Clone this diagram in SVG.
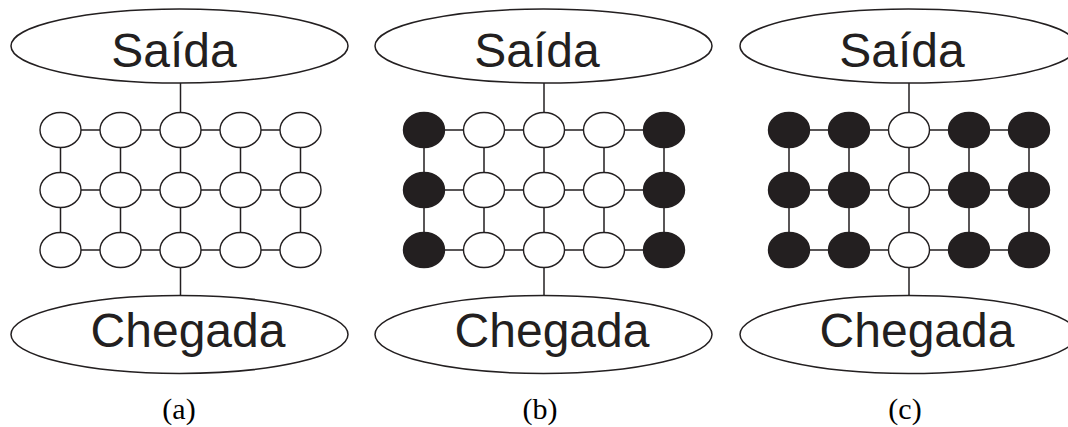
<svg xmlns="http://www.w3.org/2000/svg" width="1068" height="427" viewBox="0 0 1068 427">
  <style>
    .bg { fill: #ffffff; }
    .term { fill: #ffffff; stroke: #231f20; stroke-width: 1.5; }
    .term-text { font-family: "Liberation Sans", Arial, sans-serif; font-size: 48px; fill: #231f20; }
    .edge { stroke: #231f20; stroke-width: 1.5; fill: none; }
    .cell { fill: #ffffff; stroke: #231f20; stroke-width: 1.4; }
    .cell.on { fill: #231f20; }
    .caption { font-family: "Liberation Serif", "Times New Roman", serif; font-size: 30px; fill: #000000; text-anchor: middle; }
  </style>
  <rect class="bg" x="0" y="0" width="1068" height="427"/>

  <!-- ===== Panel (a): centre x = 180.5 ===== -->
  <g id="panel-a">
    <g id="a-connectors">
      <line class="edge" x1="180.5" y1="83" x2="180.5" y2="112.5"/>
      <line class="edge" x1="180.5" y1="267.5" x2="180.5" y2="295"/>
      <!-- rows -->
      <path class="edge" d="M81 130H100M141 130H160M201 130H220M261 130H280"/>
      <path class="edge" d="M81 190H100M141 190H160M201 190H220M261 190H280"/>
      <path class="edge" d="M81 250H100M141 250H160M201 250H220M261 250H280"/>
      <!-- columns -->
      <path class="edge" d="M60.5 147.5V172.5M60.5 207.5V232.5"/>
      <path class="edge" d="M120.5 147.5V172.5M120.5 207.5V232.5"/>
      <path class="edge" d="M180.5 147.5V172.5M180.5 207.5V232.5"/>
      <path class="edge" d="M240.5 147.5V172.5M240.5 207.5V232.5"/>
      <path class="edge" d="M300.5 147.5V172.5M300.5 207.5V232.5"/>
    </g>
    <g id="a-saida"><ellipse class="term" cx="179.5" cy="46" rx="168.5" ry="37"/><text class="term-text" x="174" y="67" text-anchor="middle">Saída</text></g>
    <g id="a-chegada"><ellipse class="term" cx="179.5" cy="334.5" rx="168.5" ry="39"/><text class="term-text" x="188" y="347" text-anchor="middle">Chegada</text></g>
    <g id="a-r1c1"><ellipse class="cell" cx="60.5" cy="130" rx="20.5" ry="17.5"/></g>
    <g id="a-r1c2"><ellipse class="cell" cx="120.5" cy="130" rx="20.5" ry="17.5"/></g>
    <g id="a-r1c3"><ellipse class="cell" cx="180.5" cy="130" rx="20.5" ry="17.5"/></g>
    <g id="a-r1c4"><ellipse class="cell" cx="240.5" cy="130" rx="20.5" ry="17.5"/></g>
    <g id="a-r1c5"><ellipse class="cell" cx="300.5" cy="130" rx="20.5" ry="17.5"/></g>
    <g id="a-r2c1"><ellipse class="cell" cx="60.5" cy="190" rx="20.5" ry="17.5"/></g>
    <g id="a-r2c2"><ellipse class="cell" cx="120.5" cy="190" rx="20.5" ry="17.5"/></g>
    <g id="a-r2c3"><ellipse class="cell" cx="180.5" cy="190" rx="20.5" ry="17.5"/></g>
    <g id="a-r2c4"><ellipse class="cell" cx="240.5" cy="190" rx="20.5" ry="17.5"/></g>
    <g id="a-r2c5"><ellipse class="cell" cx="300.5" cy="190" rx="20.5" ry="17.5"/></g>
    <g id="a-r3c1"><ellipse class="cell" cx="60.5" cy="250" rx="20.5" ry="17.5"/></g>
    <g id="a-r3c2"><ellipse class="cell" cx="120.5" cy="250" rx="20.5" ry="17.5"/></g>
    <g id="a-r3c3"><ellipse class="cell" cx="180.5" cy="250" rx="20.5" ry="17.5"/></g>
    <g id="a-r3c4"><ellipse class="cell" cx="240.5" cy="250" rx="20.5" ry="17.5"/></g>
    <g id="a-r3c5"><ellipse class="cell" cx="300.5" cy="250" rx="20.5" ry="17.5"/></g>
    <text class="caption" x="179" y="419">(a)</text>
  </g>

  <!-- ===== Panel (b): centre x = 544 ===== -->
  <g id="panel-b">
    <g id="b-connectors">
      <line class="edge" x1="544" y1="83" x2="544" y2="112.5"/>
      <line class="edge" x1="544" y1="267.5" x2="544" y2="295"/>
      <path class="edge" d="M444.5 130H463.5M504.5 130H523.5M564.5 130H583.5M624.5 130H643.5"/>
      <path class="edge" d="M444.5 190H463.5M504.5 190H523.5M564.5 190H583.5M624.5 190H643.5"/>
      <path class="edge" d="M444.5 250H463.5M504.5 250H523.5M564.5 250H583.5M624.5 250H643.5"/>
      <path class="edge" d="M424 147.5V172.5M424 207.5V232.5"/>
      <path class="edge" d="M484 147.5V172.5M484 207.5V232.5"/>
      <path class="edge" d="M544 147.5V172.5M544 207.5V232.5"/>
      <path class="edge" d="M604 147.5V172.5M604 207.5V232.5"/>
      <path class="edge" d="M664 147.5V172.5M664 207.5V232.5"/>
    </g>
    <g id="b-saida"><ellipse class="term" cx="543.5" cy="46" rx="168.5" ry="37"/><text class="term-text" x="537" y="67" text-anchor="middle">Saída</text></g>
    <g id="b-chegada"><ellipse class="term" cx="543.5" cy="334.5" rx="168.5" ry="39"/><text class="term-text" x="552" y="347" text-anchor="middle">Chegada</text></g>
    <g id="b-r1c1"><ellipse class="cell on" cx="424" cy="130" rx="20.5" ry="17.5"/></g>
    <g id="b-r1c2"><ellipse class="cell" cx="484" cy="130" rx="20.5" ry="17.5"/></g>
    <g id="b-r1c3"><ellipse class="cell" cx="544" cy="130" rx="20.5" ry="17.5"/></g>
    <g id="b-r1c4"><ellipse class="cell" cx="604" cy="130" rx="20.5" ry="17.5"/></g>
    <g id="b-r1c5"><ellipse class="cell on" cx="664" cy="130" rx="20.5" ry="17.5"/></g>
    <g id="b-r2c1"><ellipse class="cell on" cx="424" cy="190" rx="20.5" ry="17.5"/></g>
    <g id="b-r2c2"><ellipse class="cell" cx="484" cy="190" rx="20.5" ry="17.5"/></g>
    <g id="b-r2c3"><ellipse class="cell" cx="544" cy="190" rx="20.5" ry="17.5"/></g>
    <g id="b-r2c4"><ellipse class="cell" cx="604" cy="190" rx="20.5" ry="17.5"/></g>
    <g id="b-r2c5"><ellipse class="cell on" cx="664" cy="190" rx="20.5" ry="17.5"/></g>
    <g id="b-r3c1"><ellipse class="cell on" cx="424" cy="250" rx="20.5" ry="17.5"/></g>
    <g id="b-r3c2"><ellipse class="cell" cx="484" cy="250" rx="20.5" ry="17.5"/></g>
    <g id="b-r3c3"><ellipse class="cell" cx="544" cy="250" rx="20.5" ry="17.5"/></g>
    <g id="b-r3c4"><ellipse class="cell" cx="604" cy="250" rx="20.5" ry="17.5"/></g>
    <g id="b-r3c5"><ellipse class="cell on" cx="664" cy="250" rx="20.5" ry="17.5"/></g>
    <text class="caption" x="540" y="419">(b)</text>
  </g>

  <!-- ===== Panel (c): centre x = 909 ===== -->
  <g id="panel-c">
    <g id="c-connectors">
      <line class="edge" x1="909" y1="83" x2="909" y2="112.5"/>
      <line class="edge" x1="909" y1="267.5" x2="909" y2="295"/>
      <path class="edge" d="M809.5 130H828.5M869.5 130H888.5M929.5 130H948.5M989.5 130H1008.5"/>
      <path class="edge" d="M809.5 190H828.5M869.5 190H888.5M929.5 190H948.5M989.5 190H1008.5"/>
      <path class="edge" d="M809.5 250H828.5M869.5 250H888.5M929.5 250H948.5M989.5 250H1008.5"/>
      <path class="edge" d="M789 147.5V172.5M789 207.5V232.5"/>
      <path class="edge" d="M849 147.5V172.5M849 207.5V232.5"/>
      <path class="edge" d="M909 147.5V172.5M909 207.5V232.5"/>
      <path class="edge" d="M969 147.5V172.5M969 207.5V232.5"/>
      <path class="edge" d="M1029 147.5V172.5M1029 207.5V232.5"/>
    </g>
    <g id="c-saida"><ellipse class="term" cx="908.5" cy="46" rx="168.5" ry="37"/><text class="term-text" x="902" y="67" text-anchor="middle">Saída</text></g>
    <g id="c-chegada"><ellipse class="term" cx="908.5" cy="334.5" rx="168.5" ry="39"/><text class="term-text" x="917" y="347" text-anchor="middle">Chegada</text></g>
    <g id="c-r1c1"><ellipse class="cell on" cx="789" cy="130" rx="20.5" ry="17.5"/></g>
    <g id="c-r1c2"><ellipse class="cell on" cx="849" cy="130" rx="20.5" ry="17.5"/></g>
    <g id="c-r1c3"><ellipse class="cell" cx="909" cy="130" rx="20.5" ry="17.5"/></g>
    <g id="c-r1c4"><ellipse class="cell on" cx="969" cy="130" rx="20.5" ry="17.5"/></g>
    <g id="c-r1c5"><ellipse class="cell on" cx="1029" cy="130" rx="20.5" ry="17.5"/></g>
    <g id="c-r2c1"><ellipse class="cell on" cx="789" cy="190" rx="20.5" ry="17.5"/></g>
    <g id="c-r2c2"><ellipse class="cell on" cx="849" cy="190" rx="20.5" ry="17.5"/></g>
    <g id="c-r2c3"><ellipse class="cell" cx="909" cy="190" rx="20.5" ry="17.5"/></g>
    <g id="c-r2c4"><ellipse class="cell on" cx="969" cy="190" rx="20.5" ry="17.5"/></g>
    <g id="c-r2c5"><ellipse class="cell on" cx="1029" cy="190" rx="20.5" ry="17.5"/></g>
    <g id="c-r3c1"><ellipse class="cell on" cx="789" cy="250" rx="20.5" ry="17.5"/></g>
    <g id="c-r3c2"><ellipse class="cell on" cx="849" cy="250" rx="20.5" ry="17.5"/></g>
    <g id="c-r3c3"><ellipse class="cell" cx="909" cy="250" rx="20.5" ry="17.5"/></g>
    <g id="c-r3c4"><ellipse class="cell on" cx="969" cy="250" rx="20.5" ry="17.5"/></g>
    <g id="c-r3c5"><ellipse class="cell on" cx="1029" cy="250" rx="20.5" ry="17.5"/></g>
    <text class="caption" x="905" y="419">(c)</text>
  </g>
</svg>
